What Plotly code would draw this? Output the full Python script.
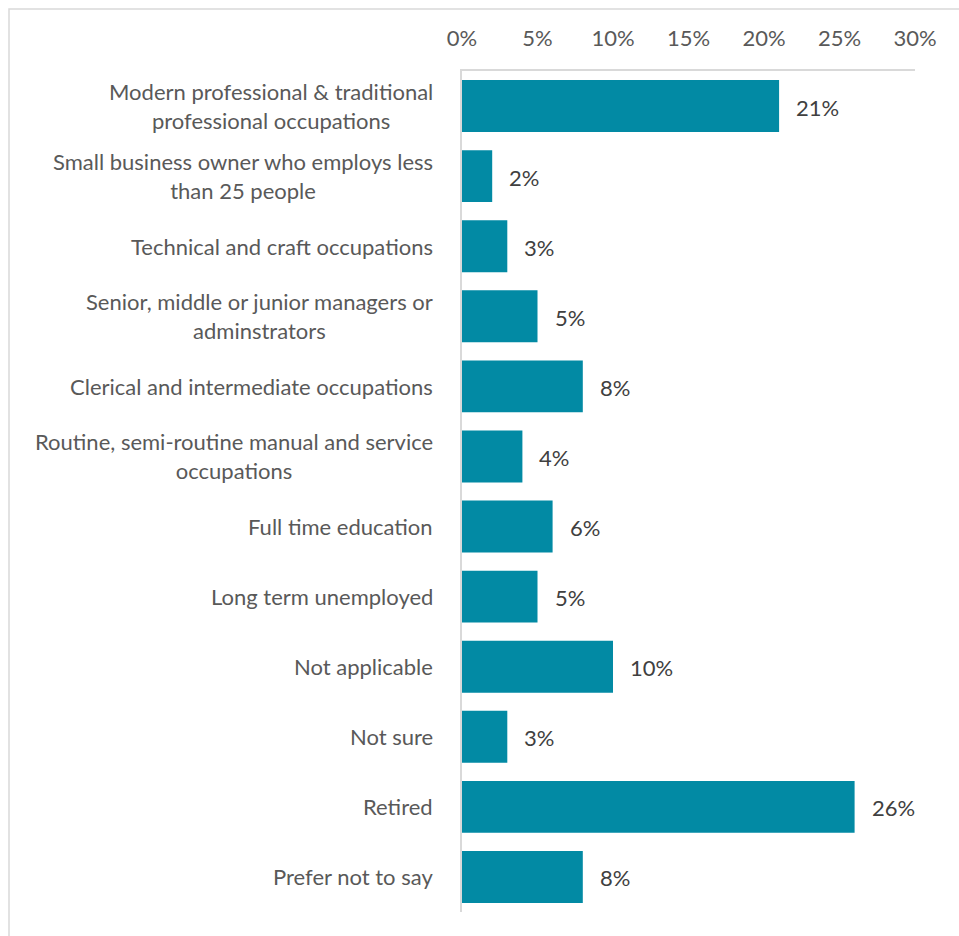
import plotly.graph_objects as go

# Occupation categories, top to bottom
categories = [
    "Modern professional & traditional<br>professional occupations",
    "Small business owner who employs less<br>than 25 people",
    "Technical and craft occupations",
    "Senior, middle or junior managers or<br>adminstrators",
    "Clerical and intermediate occupations",
    "Routine, semi-routine manual and service<br>occupations",
    "Full time education",
    "Long term unemployed",
    "Not applicable",
    "Not sure",
    "Retired",
    "Prefer not to say",
]
shares = [21, 2, 3, 5, 8, 4, 6, 5, 10, 3, 26, 8]  # percent of respondents
x_ticks = [0, 5, 10, 15, 20, 25, 30]
x_tick_labels = [f"{t}%" for t in x_ticks]

FONT = "Lato"
FS = 22
BAR = "#028AA4"
AXIS = "#D9D9D9"
LABEL = "#595959"
VALUE = "#404040"

W, H = 959, 936
ML, MR, MT, MB = 462, 44, 71, 24

fig = go.Figure(
    go.Bar(
        x=shares,
        y=categories,
        orientation="h",
        marker=dict(color=BAR, line=dict(width=0)),
        hoverinfo="skip",
    )
)

# value labels just past the bar ends
for c, v in zip(categories, shares):
    fig.add_annotation(
        x=v, y=c, xref="x", yref="y", text=f"{v}%", showarrow=False,
        xanchor="left", xshift=15, yshift=-1,
        font=dict(family=FONT, size=FS, color=VALUE),
    )

# category labels, centred line by line, right-aligned against the axis
for c in categories:
    fig.add_annotation(
        x=0, y=c, xref="paper", yref="y", text=c, showarrow=False,
        xanchor="right", align="center", xshift=-27,
        font=dict(family=FONT, size=FS, color=LABEL),
    )

# light frame around the chart
px_x = lambda p: (p - ML) / (W - ML - MR)
px_y = lambda p: (H - MB - p) / (H - MT - MB)
fig.add_shape(
    type="rect", xref="paper", yref="paper",
    x0=px_x(9), x1=px_x(W + 10), y0=px_y(H + 10), y1=px_y(9),
    line=dict(color=AXIS, width=1.5), fillcolor="rgba(0,0,0,0)", layer="below",
)

fig.update_layout(
    width=W, height=H,
    margin=dict(l=ML, r=MR, t=MT, b=MB),
    paper_bgcolor="white", plot_bgcolor="white",
    bargap=0.26,
    showlegend=False,
    font=dict(family=FONT, size=FS, color=LABEL),
    xaxis=dict(
        side="top", range=[0, 30], tickvals=x_ticks, ticktext=x_tick_labels,
        showgrid=False, zeroline=False, showline=True, linecolor=AXIS, linewidth=1.5,
        ticks="", ticklabelstandoff=14,
        tickfont=dict(family=FONT, size=FS, color=LABEL),
    ),
    yaxis=dict(
        categoryorder="array", categoryarray=categories, autorange="reversed",
        showticklabels=False, showgrid=False, zeroline=False,
        showline=True, linecolor=AXIS, linewidth=1.5, ticks="",
    ),
)

fig.write_html("out.html")
